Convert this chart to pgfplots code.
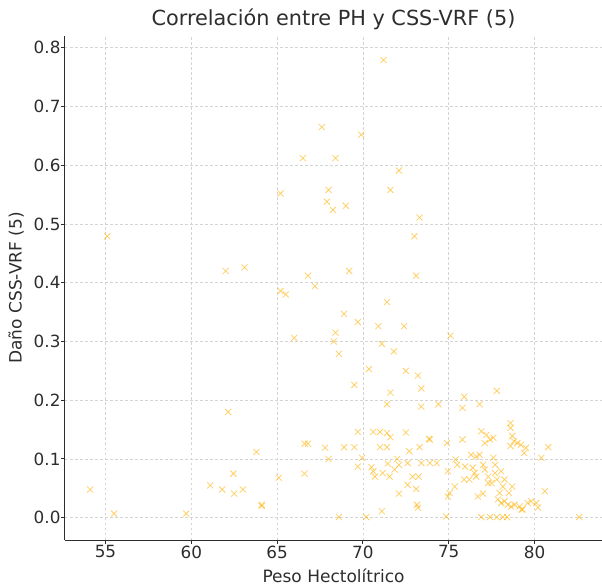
\documentclass[border=0pt]{standalone}
\usepackage{pgfplots}
\pgfplotsset{compat=1.18}
\usepackage{fontspec}
\setmainfont{DejaVu Sans}
\definecolor{mk}{RGB}{255,176,0}
\definecolor{gridc}{RGB}{212,212,212}
\definecolor{axc}{RGB}{45,45,45}
\begin{document}
\begin{tikzpicture}
\begin{axis}[
  name=ax,
  scale only axis,
  width=537pt, height=504pt,
  xmin=52.64, xmax=83.93,
  ymin=-0.038, ymax=0.820,
  axis x line*=bottom, axis y line*=left,
  axis line style={axc, line width=1pt, -},
  xtick={55,60,65,70,75,80},
  ytick={0,0.1,0.2,0.3,0.4,0.5,0.6,0.7,0.8},
  tick align=outside,
  major tick length=4pt,
  tick style={axc, line width=0.9pt},
  grid=major,
  grid style={gridc, dash pattern=on 2.5pt off 2.5pt, line width=0.6pt},
  /pgf/number format/assume math mode=true,
  ticklabel style={font=\fontsize{16.8}{19}\selectfont, text=axc},
  yticklabel style={xshift=3pt, /pgf/number format/.cd, fixed, fixed zerofill, precision=1},
  xticklabel style={yshift=2pt},
  xlabel={Peso Hectolítrico},
  ylabel={Daño CSS-VRF (5)},
  label style={font=\fontsize{17}{19}\selectfont, text=axc},
  title={Correlación entre PH y CSS-VRF (5)},
  title style={font=\fontsize{20.8}{23}\selectfont, text=axc, yshift=-3pt},
  xlabel style={yshift=-4pt},
  ylabel style={yshift=3pt},
]
\addplot[only marks, mark=x, mark size=4.3pt, mark options={mk, opacity=0.62, line width=0.75pt}] table {
x y
71.2 0.779
67.6 0.665
69.9 0.652
66.5 0.612
68.4 0.612
72.1 0.591
65.2 0.552
68.0 0.558
71.6 0.558
67.9 0.538
69.0 0.531
68.25 0.524
73.3 0.511
73.0 0.479
55.1 0.479
62.0 0.420
63.1 0.426
66.8 0.412
69.2 0.420
73.1 0.412
67.2 0.394
65.2 0.386
65.5 0.380
71.4 0.367
68.9 0.347
69.7 0.333
70.9 0.326
72.4 0.326
68.4 0.315
75.1 0.310
66.0 0.306
68.3 0.300
71.1 0.296
71.8 0.283
68.6 0.279
70.35 0.253
72.5 0.250
73.2 0.242
69.5 0.226
73.4 0.220
77.8 0.216
71.6 0.213
75.9 0.206
71.4 0.193
73.4 0.189
74.4 0.193
75.8 0.187
76.8 0.193
62.15 0.180
78.6 0.161
78.6 0.153
69.7 0.146
70.6 0.146
71.0 0.146
71.4 0.144
72.5 0.145
71.6 0.137
73.85 0.134
73.9 0.133
75.8 0.133
66.6 0.126
66.8 0.126
67.8 0.119
68.9 0.120
69.5 0.120
71.0 0.120
71.4 0.120
73.3 0.120
74.9 0.127
76.9 0.147
77.2 0.141
77.4 0.133
77.6 0.136
77.1 0.127
78.7 0.139
78.8 0.130
79.0 0.127
79.2 0.124
79.5 0.119
79.4 0.110
78.6 0.122
80.8 0.120
80.4 0.102
63.8 0.112
72.7 0.113
68.0 0.100
69.95 0.102
69.7 0.087
70.5 0.086
70.6 0.079
70.7 0.070
71.15 0.076
71.45 0.092
71.55 0.070
71.85 0.082
72.0 0.100
72.1 0.090
72.6 0.093
73.4 0.093
73.9 0.093
74.3 0.093
72.9 0.070
73.25 0.070
72.6 0.056
73.1 0.049
72.1 0.041
73.15 0.022
73.2 0.017
71.1 0.011
70.2 0.001
68.6 0.001
74.85 0.002
75.4 0.099
75.5 0.090
75.9 0.065
75.35 0.053
75.05 0.042
74.95 0.036
74.95 0.079
76.3 0.107
76.6 0.104
76.8 0.107
77.6 0.102
75.95 0.087
76.2 0.065
76.4 0.085
76.5 0.076
76.6 0.070
77.1 0.082
77.3 0.070
77.5 0.059
77.7 0.076
77.8 0.065
78.05 0.079
78.25 0.065
78.15 0.053
78.7 0.053
78.5 0.042
80.6 0.045
76.7 0.036
77.0 0.041
77.96 0.042
77.86 0.031
78.06 0.025
78.25 0.028
78.44 0.022
78.64 0.019
78.83 0.022
79.13 0.019
79.23 0.014
79.6 0.025
79.8 0.028
80.1 0.025
80.2 0.017
79.3 0.014
76.9 0.001
77.4 0.001
77.8 0.001
78.15 0.001
78.4 0.001
82.6 0.001
54.1 0.048
55.5 0.007
59.7 0.007
61.1 0.055
61.8 0.048
62.45 0.075
62.5 0.041
63.0 0.048
64.1 0.020
64.1 0.022
65.1 0.068
66.6 0.075
77.0 0.090
77.7 0.090
77.3 0.059
};
\end{axis}
\pgfresetboundingbox
\path[use as bounding box] ([shift={(-65pt,-46pt)}]ax.south west) rectangle ([shift={(0pt,36pt)}]ax.north east);
\end{tikzpicture}
\end{document}
